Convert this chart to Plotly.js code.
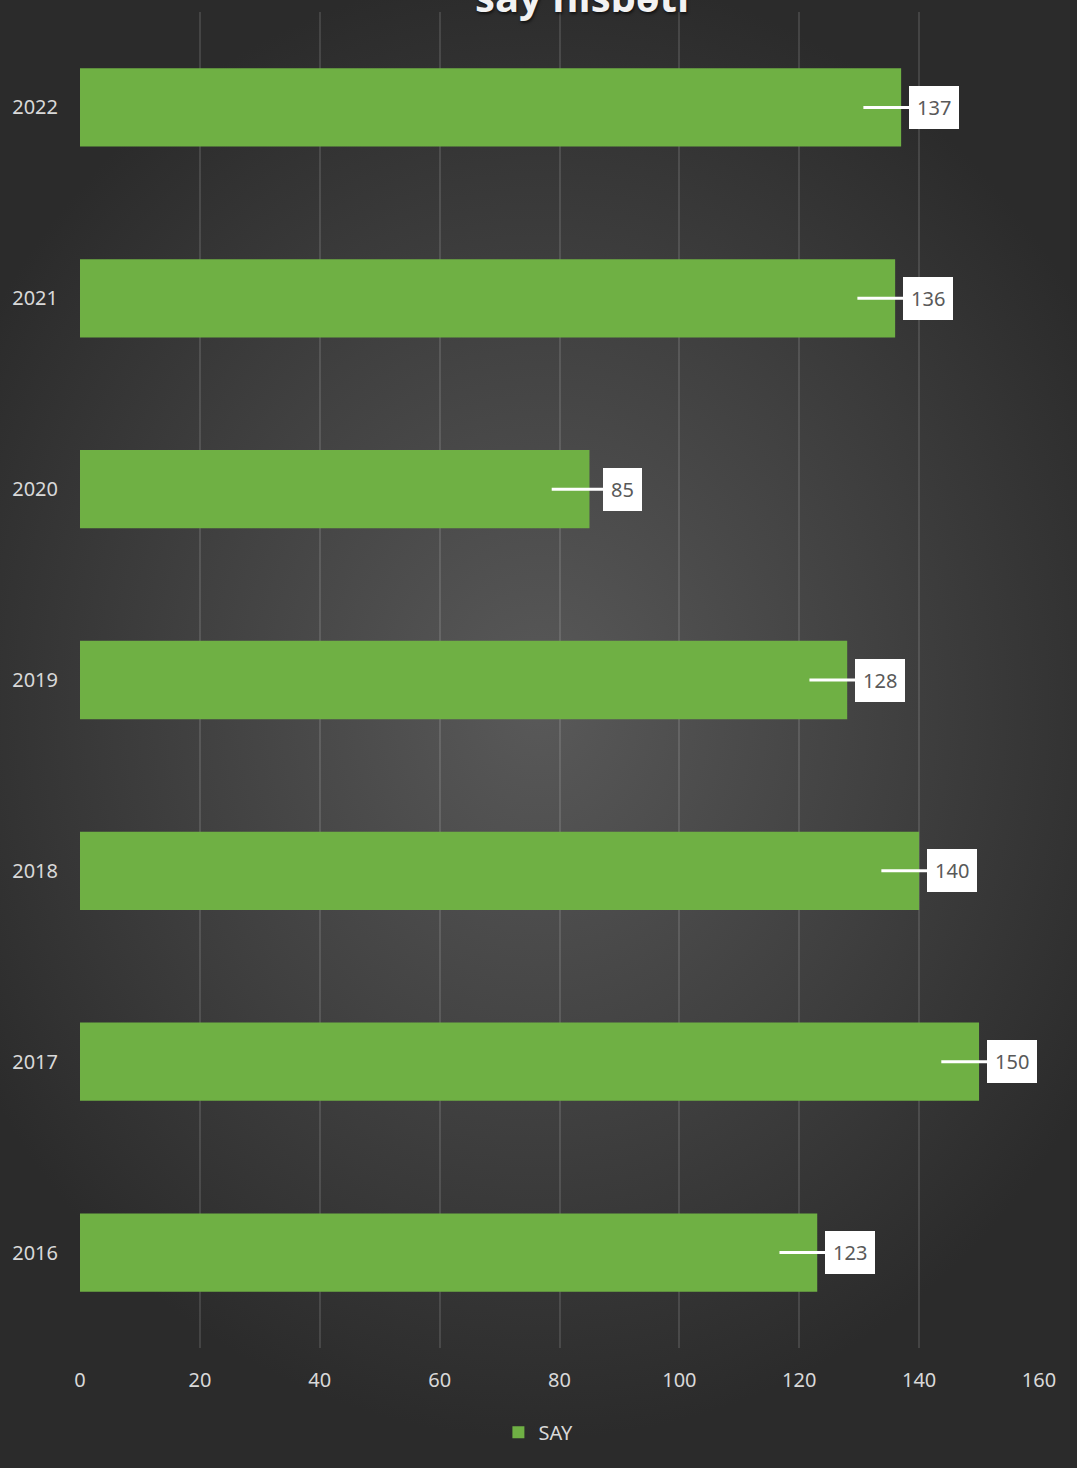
<!DOCTYPE html>
<html>
<head>
<meta charset="utf-8">
<script src="https://cdn.plot.ly/plotly-3.0.1.min.js"></script>
<style>
html,body{margin:0;padding:0;}
body{width:1077px;height:1468px;overflow:hidden;
background: radial-gradient(ellipse 60% 50% at 50% 48%, #595959 0%, #404040 55%, #2b2b2b 100%);}
#chart{width:1077px;height:1468px;}
</style>
</head>
<body>
<div id="chart"></div>
<script>
const years = ["2016","2017","2018","2019","2020","2021","2022"];
const values = [123, 150, 140, 128, 85, 136, 137];
const seriesName = "SAY";
const titleText = "say nisbəti";
const xTicks = [0,20,40,60,80,100,120,140,160];

const trace = {
  type: "bar",
  orientation: "h",
  y: years,
  x: values,
  name: seriesName,
  marker: {color: "#6fb044", line: {width: 0}},
  hoverinfo: "x+y"
};

const labelFont = {family: "Noto Sans, sans-serif", size: 20, color: "#595959"};

const annotations = years.map((yr, i) => ({
  x: values[i] - 6.3,
  y: i,
  xref: "x", yref: "y",
  text: String(values[i]),
  showarrow: true,
  arrowhead: 0,
  arrowwidth: 3,
  arrowcolor: "#ffffff",
  ax: 71, ay: 0,
  bgcolor: "#ffffff",
  borderpad: 8,
  borderwidth: 0,
  font: labelFont
}));

annotations.push({
  xref: "paper", yref: "paper",
  x: 0.523, y: 1, xanchor: "center", yanchor: "middle",
  yshift: 16,
  showarrow: false,
  text: "<b>" + titleText + "</b>",
  font: {family: "Open Sans, sans-serif", size: 40, color: "#f2f2f2",
         shadow: "1px 2px 3px rgba(0,0,0,0.6)"}
});

const layout = {
  width: 1077, height: 1468,
  paper_bgcolor: "rgba(0,0,0,0)",
  plot_bgcolor: "rgba(0,0,0,0)",
  margin: {l: 80, r: 38, t: 12, b: 120},
  bargap: 0.59,
  xaxis: {
    range: [0, 160],
    tickvals: xTicks,
    ticktext: xTicks.map(String),
    showgrid: true,
    gridcolor: "rgba(255,255,255,0.12)",
    gridwidth: 2,
    zeroline: false,
    showline: false,
    ticks: "",
    tickfont: {family: "Noto Sans, sans-serif", size: 20, color: "#d9d9d9"},
    ticklabelstandoff: 18,
    fixedrange: true
  },
  yaxis: {
    type: "category",
    categoryorder: "array",
    categoryarray: years,
    range: [-0.5, 6.5],
    showgrid: false,
    zeroline: false,
    showline: false,
    ticks: "",
    tickfont: {family: "Noto Sans, sans-serif", size: 20, color: "#d9d9d9"},
    ticklabelstandoff: 21,
    fixedrange: true
  },
  showlegend: true,
  legend: {
    orientation: "h",
    x: 0.478, xanchor: "center",
    y: -0.063, yanchor: "middle",
    font: {family: "Noto Sans, sans-serif", size: 20, color: "#d9d9d9"},
    bgcolor: "rgba(0,0,0,0)",
    itemwidth: 30
  },
  annotations: annotations
};

Plotly.newPlot("chart", [trace], layout, {displayModeBar: false, staticPlot: true});
</script>
</body>
</html>
